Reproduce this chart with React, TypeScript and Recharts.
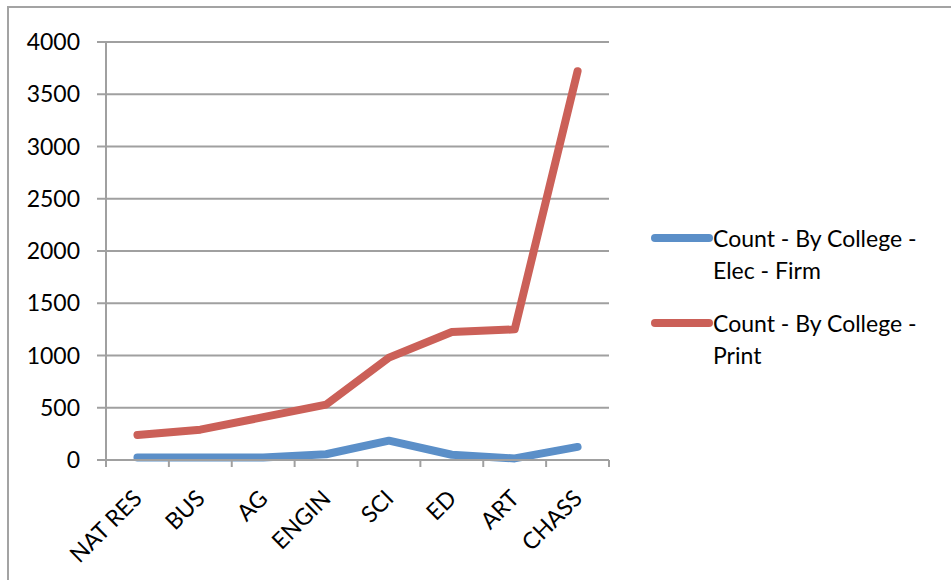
import { LineChart, Line, CartesianGrid, XAxis, YAxis } from "recharts";

const colleges = ["NAT RES", "BUS", "AG", "ENGIN", "SCI", "ED", "ART", "CHASS"];
const elecFirm = [25, 25, 25, 55, 185, 50, 15, 125];
const print = [240, 290, 410, 530, 980, 1225, 1250, 3720];
const yTicks = [0, 500, 1000, 1500, 2000, 2500, 3000, 3500, 4000];

const ELEC_NAME = "Count - By College - Elec - Firm";
const PRINT_NAME = "Count - By College - Print";

const data = colleges.map((c, i) => ({
  college: c,
  elec: elecFirm[i],
  print: print[i],
}));

const FONT = "Lato, 'Open Sans', sans-serif";
const GRAY = "#a0a0a0";
const BLUE = "#5b8fc8";
const RED = "#cb6058";

const PLOT_LEFT = 106;
const PLOT_RIGHT = 609;
const HALF_STEP = (PLOT_RIGHT - PLOT_LEFT) / (colleges.length * 2);

function CollegeTick(props: any) {
  const { x, y, payload, index } = props;
  const last = index === colleges.length - 1;
  return (
    <g>
      <line x1={x - HALF_STEP} y1={y} x2={x - HALF_STEP} y2={y + 7} stroke={GRAY} strokeWidth={2} />
      {last && (
        <line x1={x + HALF_STEP} y1={y} x2={x + HALF_STEP} y2={y + 7} stroke={GRAY} strokeWidth={2} />
      )}
      <text
        x={x + 6}
        y={y + 40}
        textAnchor="end"
        transform={`rotate(-45 ${x + 6} ${y + 40})`}
        fontFamily={FONT}
        fontSize={23}
        fill="#000"
      >
        {payload.value}
      </text>
    </g>
  );
}

function LegendBox() {
  const items = [
    { name: ELEC_NAME, color: BLUE },
    { name: PRINT_NAME, color: RED },
  ];
  return (
    <div style={{ fontFamily: FONT, fontSize: 23, lineHeight: "32px", color: "#000" }}>
      {items.map((it) => (
        <div key={it.name} style={{ display: "flex", alignItems: "flex-start", marginBottom: 21 }}>
          <svg width={62} height={32} style={{ flex: "none" }}>
            <line x1={4} y1={16} x2={58} y2={16} stroke={it.color} strokeWidth={8} strokeLinecap="round" />
          </svg>
          <div style={{ width: 236 }}>{it.name}</div>
        </div>
      ))}
    </div>
  );
}

export default function App() {
  return (
    <div
      style={{
        position: "absolute",
        left: 0,
        top: 0,
        width: 951,
        height: 580,
        overflow: "hidden",
        background: "#fff",
      }}
    >
      <div
        style={{
          position: "absolute",
          left: 7,
          top: 6,
          width: 1000,
          height: 700,
          border: "2px solid #a3a3a3",
        }}
      />
      <div style={{ position: "absolute", left: 0, top: 0 }}>
        <LineChart
          width={951}
          height={580}
          data={data}
          margin={{ top: 42, right: 951 - PLOT_RIGHT, bottom: 0, left: 0 }}
        >
          <CartesianGrid vertical={false} stroke={GRAY} strokeWidth={2} />
          <XAxis
            dataKey="college"
            height={120}
            padding={{ left: HALF_STEP, right: HALF_STEP }}
            axisLine={{ stroke: GRAY, strokeWidth: 2 }}
            tickLine={false}
            tickSize={0}
            tickMargin={0}
            interval={0}
            tick={<CollegeTick />}
          />
          <YAxis
            width={PLOT_LEFT}
            domain={[0, 4000]}
            ticks={yTicks}
            axisLine={{ stroke: GRAY, strokeWidth: 2 }}
            tickLine={{ stroke: GRAY, strokeWidth: 2 }}
            tickSize={9}
            tickMargin={17}
            tick={{ fontFamily: FONT, fontSize: 23, fill: "#000" }}
          />
          <Line
            type="linear"
            dataKey="elec"
            name={ELEC_NAME}
            stroke={BLUE}
            strokeWidth={8}
            strokeLinecap="round"
            strokeLinejoin="round"
            dot={false}
            activeDot={false}
            isAnimationActive={false}
          />
          <Line
            type="linear"
            dataKey="print"
            name={PRINT_NAME}
            stroke={RED}
            strokeWidth={8}
            strokeLinecap="round"
            strokeLinejoin="round"
            dot={false}
            activeDot={false}
            isAnimationActive={false}
          />
        </LineChart>
      </div>
      <div style={{ position: "absolute", left: 651, top: 222, width: 300 }}>
        <LegendBox />
      </div>
    </div>
  );
}
